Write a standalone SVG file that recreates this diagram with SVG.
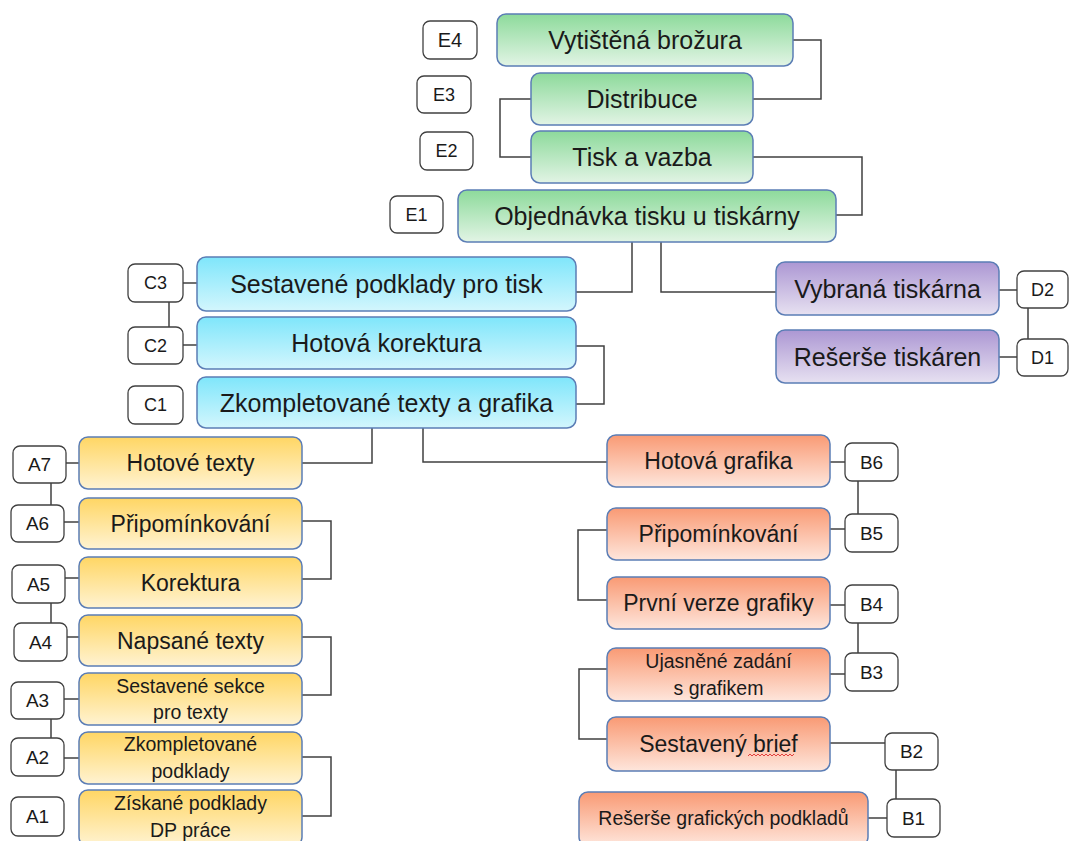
<svg xmlns="http://www.w3.org/2000/svg" width="1069" height="841" viewBox="0 0 1069 841">
<defs>
<linearGradient id="gG" x1="0" y1="0" x2="0" y2="1"><stop offset="0" stop-color="#8DDA9B"/><stop offset="1" stop-color="#E2F4E5"/></linearGradient>
<linearGradient id="gB" x1="0" y1="0" x2="0" y2="1"><stop offset="0" stop-color="#7FE6FB"/><stop offset="1" stop-color="#D3F6FD"/></linearGradient>
<linearGradient id="gP" x1="0" y1="0" x2="0" y2="1"><stop offset="0" stop-color="#AC97D3"/><stop offset="1" stop-color="#E7E1F1"/></linearGradient>
<linearGradient id="gY" x1="0" y1="0" x2="0" y2="1"><stop offset="0" stop-color="#FFD664"/><stop offset="1" stop-color="#FFF3D2"/></linearGradient>
<linearGradient id="gO" x1="0" y1="0" x2="0" y2="1"><stop offset="0" stop-color="#F99A74"/><stop offset="1" stop-color="#FEE6DC"/></linearGradient>
</defs>
<style>
.n{stroke:#5B7DB5;stroke-width:1.5}
.g{fill:url(#gG)} .b{fill:url(#gB)} .p{fill:url(#gP)} .y{fill:url(#gY)} .o{fill:url(#gO)}
.l{fill:#fff;stroke:#404040;stroke-width:1.3}
text{font-family:"Liberation Sans",Arial,sans-serif;fill:#1a1a1a;text-anchor:middle;dominant-baseline:central}
.t25{font-size:25px} .t23{font-size:23px} .t20{font-size:19.5px} .lt{font-size:18px}
.c{fill:none;stroke:#404040;stroke-width:1.5}
</style>
<rect width="1069" height="841" fill="#fff"/>
<g id="connectors">
<path class="c" d="M793,40 H821 V99 H753"/>
<path class="c" d="M531,99 H500 V157 H531"/>
<path class="c" d="M753,157 H862 V215 H836"/>
<path class="c" d="M632,242 V292 H576"/>
<path class="c" d="M661,242 V292 H776"/>
<path class="c" d="M183,283 H197"/>
<path class="c" d="M169,302 V327"/>
<path class="c" d="M183,345 H197"/>
<path class="c" d="M576,346 H604 V404 H576"/>
<path class="c" d="M372,428 V463 H302"/>
<path class="c" d="M423,428 V462 H607"/>
<path class="c" d="M999,290 H1017"/>
<path class="c" d="M1028,308 V339"/>
<path class="c" d="M999,357 H1017"/>
<path class="c" d="M66,463 H79"/>
<path class="c" d="M51,483 V505"/>
<path class="c" d="M64,522 H79"/>
<path class="c" d="M302,521 H331 V579 H302"/>
<path class="c" d="M65,578 H79"/>
<path class="c" d="M51,603 V623"/>
<path class="c" d="M67,637 H79"/>
<path class="c" d="M302,637 H331 V695 H302"/>
<path class="c" d="M64,699 H79"/>
<path class="c" d="M51,719 V738"/>
<path class="c" d="M64,758 H79"/>
<path class="c" d="M302,757 H331 V816 H302"/>
<path class="c" d="M830,462 H845"/>
<path class="c" d="M858,481 V514"/>
<path class="c" d="M830,529 H845"/>
<path class="c" d="M607,530 H578 V600 H607"/>
<path class="c" d="M830,605 H845"/>
<path class="c" d="M858,623 V653"/>
<path class="c" d="M830,674 H845"/>
<path class="c" d="M607,669 H579 V739 H607"/>
<path class="c" d="M830,743 H885"/>
<path class="c" d="M896,770 V799"/>
<path class="c" d="M868,818 H887"/>
</g>
<g id="E4"><rect class="l" x="423" y="21" width="54" height="38" rx="7"/><text class="lt" x="450" y="40" style="font-size:20px">E4</text></g>
<g id="E4n"><rect class="n g" x="497" y="14" width="296" height="52" rx="9"/><text class="t25" x="645" y="40">Vytištěná brožura</text></g>
<g id="E3"><rect class="l" x="417" y="76" width="54" height="37" rx="7"/><text class="lt" x="444" y="94.5">E3</text></g>
<g id="E3n"><rect class="n g" x="531" y="73" width="222" height="52" rx="9"/><text class="t25" x="642" y="99">Distribuce</text></g>
<g id="E2"><rect class="l" x="420" y="132" width="53" height="38" rx="7"/><text class="lt" x="446.5" y="151">E2</text></g>
<g id="E2n"><rect class="n g" x="531" y="131" width="222" height="52" rx="9"/><text class="t25" x="642" y="157">Tisk a vazba</text></g>
<g id="E1"><rect class="l" x="390" y="196" width="53" height="37" rx="7"/><text class="lt" x="416.5" y="214.5">E1</text></g>
<g id="E1n"><rect class="n g" x="458" y="190" width="378" height="52" rx="9"/><text class="t25" x="647" y="216">Objednávka tisku u tiskárny</text></g>
<g id="C3"><rect class="l" x="128" y="264" width="55" height="38" rx="7"/><text class="lt" x="155.5" y="283">C3</text></g>
<g id="C3n"><rect class="n b" x="197" y="257" width="379" height="54" rx="9"/><text class="t25" x="386.5" y="284">Sestavené podklady pro tisk</text></g>
<g id="C2"><rect class="l" x="128" y="327" width="55" height="37" rx="7"/><text class="lt" x="155.5" y="345.5">C2</text></g>
<g id="C2n"><rect class="n b" x="197" y="317" width="379" height="52" rx="9"/><text class="t25" x="386.5" y="343">Hotová korektura</text></g>
<g id="C1"><rect class="l" x="128" y="386" width="55" height="38" rx="7"/><text class="lt" x="155.5" y="405">C1</text></g>
<g id="C1n"><rect class="n b" x="197" y="377" width="379" height="51" rx="9"/><text class="t25" x="386.5" y="402.5">Zkompletované texty a grafika</text></g>
<g id="D2"><rect class="l" x="1017" y="271" width="51" height="37" rx="7"/><text class="lt" x="1042.5" y="289.5">D2</text></g>
<g id="D2n"><rect class="n p" x="776" y="262" width="223" height="53" rx="9"/><text class="t25" x="887.5" y="288.5">Vybraná tiskárna</text></g>
<g id="D1"><rect class="l" x="1017" y="339" width="51" height="37" rx="7"/><text class="lt" x="1042.5" y="357.5">D1</text></g>
<g id="D1n"><rect class="n p" x="776" y="330" width="223" height="53" rx="9"/><text class="t25" x="887.5" y="356.5">Rešerše tiskáren</text></g>
<g id="A7"><rect class="l" x="13" y="446" width="53" height="37" rx="7"/><text class="lt" x="39.5" y="464.5" style="font-size:19px">A7</text></g>
<g id="A7n"><rect class="n y" x="79" y="437" width="223" height="52" rx="9"/><text class="t23" x="190.5" y="463">Hotové texty</text></g>
<g id="A6"><rect class="l" x="11" y="505" width="53" height="37" rx="7"/><text class="lt" x="37.5" y="523.5" style="font-size:19px">A6</text></g>
<g id="A6n"><rect class="n y" x="79" y="498" width="223" height="51" rx="9"/><text class="t23" x="190.5" y="523.5">Připomínkování</text></g>
<g id="A5"><rect class="l" x="12" y="565" width="53" height="38" rx="7"/><text class="lt" x="38.5" y="584" style="font-size:19px">A5</text></g>
<g id="A5n"><rect class="n y" x="79" y="557" width="223" height="51" rx="9"/><text class="t23" x="190.5" y="582.5">Korektura</text></g>
<g id="A4"><rect class="l" x="14" y="623" width="53" height="38" rx="7"/><text class="lt" x="40.5" y="642" style="font-size:19px">A4</text></g>
<g id="A4n"><rect class="n y" x="79" y="615" width="223" height="51" rx="9"/><text class="t23" x="190.5" y="640.5">Napsané texty</text></g>
<g id="A3"><rect class="l" x="11" y="682" width="53" height="37" rx="7"/><text class="lt" x="37.5" y="700.5" style="font-size:19px">A3</text></g>
<g id="A3n"><rect class="n y" x="79" y="673" width="223" height="52" rx="9"/><text class="t20" x="190.5" y="686">Sestavené sekce</text><text class="t20" x="190.5" y="712">pro texty</text></g>
<g id="A2"><rect class="l" x="11" y="738" width="53" height="38" rx="7"/><text class="lt" x="37.5" y="757" style="font-size:19px">A2</text></g>
<g id="A2n"><rect class="n y" x="79" y="732" width="223" height="52" rx="9"/><text class="t20" x="190.5" y="744">Zkompletované</text><text class="t20" x="190.5" y="771">podklady</text></g>
<g id="A1"><rect class="l" x="11" y="797" width="53" height="39" rx="7"/><text class="lt" x="37.5" y="816.5" style="font-size:19px">A1</text></g>
<g id="A1n"><rect class="n y" x="79" y="790" width="223" height="56" rx="9"/><text class="t20" x="190.5" y="803">Získané podklady</text><text class="t20" x="190.5" y="830">DP práce</text></g>
<g id="B6"><rect class="l" x="845" y="443" width="53" height="38" rx="7"/><text class="lt" x="871.5" y="462" style="font-size:19px">B6</text></g>
<g id="B6n"><rect class="n o" x="607" y="435" width="223" height="52" rx="9"/><text class="t23" x="718.5" y="461">Hotová grafika</text></g>
<g id="B5"><rect class="l" x="845" y="514" width="53" height="38" rx="7"/><text class="lt" x="871.5" y="533" style="font-size:19px">B5</text></g>
<g id="B5n"><rect class="n o" x="607" y="508" width="223" height="52" rx="9"/><text class="t23" x="718.5" y="534">Připomínkování</text></g>
<g id="B4"><rect class="l" x="845" y="585" width="53" height="38" rx="7"/><text class="lt" x="871.5" y="604" style="font-size:19px">B4</text></g>
<g id="B4n"><rect class="n o" x="607" y="577" width="223" height="52" rx="9"/><text class="t23" x="718.5" y="603">První verze grafiky</text></g>
<g id="B3"><rect class="l" x="845" y="653" width="53" height="38" rx="7"/><text class="lt" x="871.5" y="672" style="font-size:19px">B3</text></g>
<g id="B3n"><rect class="n o" x="607" y="648" width="223" height="53" rx="9"/><text class="t20" x="718.5" y="661">Ujasněné zadání</text><text class="t20" x="718.5" y="688">s grafikem</text></g>
<g id="B2"><rect class="l" x="885" y="733" width="53" height="37" rx="7"/><text class="lt" x="911.5" y="751.5" style="font-size:19px">B2</text></g>
<g id="B2n"><rect class="n o" x="607" y="717" width="223" height="54" rx="9"/><text class="t23" x="718.5" y="744">Sestavený brief</text><path d="M748,756 l2,-2 l2,2 l2,-2 l2,2 l2,-2 l2,2 l2,-2 l2,2 l2,-2 l2,2 l2,-2 l2,2 l2,-2 l2,2 l2,-2 l2,2 l2,-2 l2,2 l2,-2 l2,2 l2,-2 l2,2 l2,-2" fill="none" stroke="#E03030" stroke-width="0.9"/></g>
<g id="B1"><rect class="l" x="887" y="799" width="53" height="38" rx="7"/><text class="lt" x="913.5" y="818" style="font-size:19px">B1</text></g>
<g id="B1n"><rect class="n o" x="579" y="792" width="289" height="54" rx="9"/><text class="t20" x="723.5" y="818">Rešerše grafických podkladů</text></g>
</svg>
